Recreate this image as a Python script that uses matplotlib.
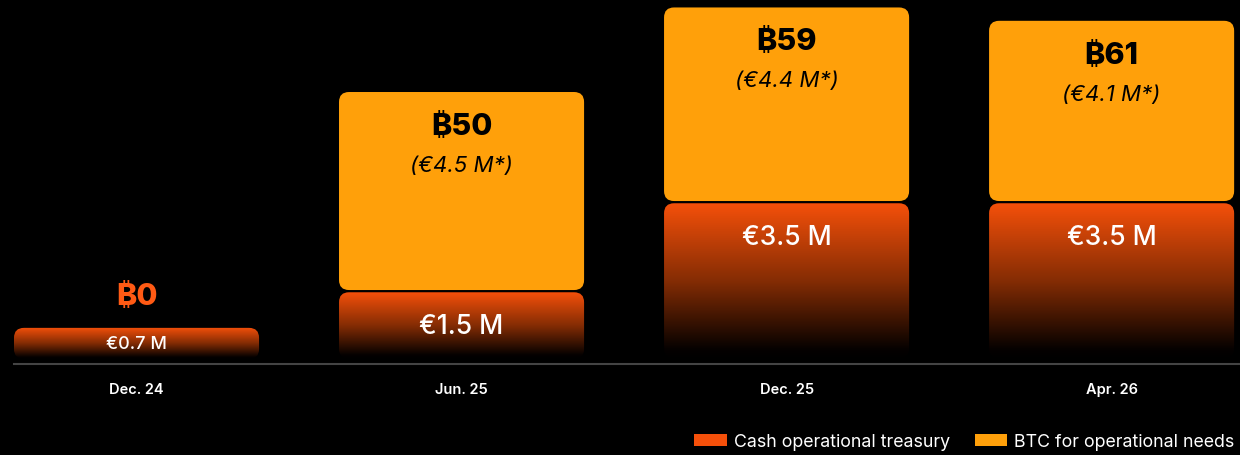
import numpy as np
import matplotlib
matplotlib.use("Agg")
import matplotlib.pyplot as plt
from matplotlib.patches import FancyBboxPatch, Patch
from matplotlib.colors import LinearSegmentedColormap

plt.rcParams['font.family'] = ['Inter', 'DejaVu Sans']

# data
periods = ["Dec. 24", "Jun. 25", "Dec. 25", "Apr. 26"]
cash_eur = [0.7, 1.5, 3.5, 3.5]          # M EUR
btc_eur = [0.0, 4.5, 4.4, 4.1]           # M EUR
btc_count = [0, 50, 59, 61]
cash_labels = ["€0.7 M", "€1.5 M", "€3.5 M", "€3.5 M"]
btc_labels = ["", "(€4.5 M*)", "(€4.4 M*)", "(€4.1 M*)"]

RED = '#F5500A'
ORANGE = '#FFA00A'
BG = 'black'

fig = plt.figure(figsize=(12.4, 4.56), dpi=100, facecolor=BG)
ax = fig.add_axes([0, 0, 1, 1])
ax.set_facecolor(BG)
ax.set_xlim(-0.42, 3.395)
ax.set_ylim(-2.157, 8.09)
ax.axis('off')

width = 0.754
gap = 0.05
px_x = 325.0      # pixels per x unit
px_y = 44.5       # pixels per y unit
r = 10 / px_x
aspect = px_x / px_y

grad = LinearSegmentedColormap.from_list(
    'g', [(0, '#000000'), (0.06, '#050100'), (0.5, '#842c04'), (1, RED)])
gimg = np.linspace(0, 1, 256).reshape(-1, 1)

for i, p in enumerate(periods):
    x0 = i - width / 2
    # cash bar with gradient
    h = cash_eur[i]
    patch = FancyBboxPatch((x0, 0), width, h,
                           boxstyle=f"round,pad=0,rounding_size={r}",
                           mutation_aspect=aspect, facecolor='none', edgecolor='none')
    ax.add_patch(patch)
    im = ax.imshow(gimg, cmap=grad, origin='lower', aspect='auto',
                   extent=(x0, x0 + width, 0, h), zorder=2)
    im.set_clip_path(patch)

    if btc_eur[i] > 0:
        top = FancyBboxPatch((x0, h + gap), width, btc_eur[i] - gap,
                             boxstyle=f"round,pad=0,rounding_size={r}",
                             mutation_aspect=aspect, facecolor=ORANGE,
                             edgecolor='none', zorder=2)
        ax.add_patch(top)
        stack = h + btc_eur[i]
        ax.annotate(f"₿{btc_count[i]}", (i, stack), xytext=(0, -34),
                    textcoords='offset pixels', ha='center', va='center',
                    fontsize=22, fontweight='heavy', color='black', zorder=3)
        ax.annotate(btc_labels[i], (i, stack), xytext=(0, -73),
                    textcoords='offset pixels', ha='center', va='center',
                    fontsize=16, style='italic', color='black', zorder=3)
        ax.annotate(cash_labels[i], (i, h), xytext=(0, -34),
                    textcoords='offset pixels', ha='center', va='center',
                    fontsize=19, fontweight='medium', color='white', zorder=3)
    else:
        ax.text(i, h / 2, cash_labels[i], ha='center', va='center',
                fontsize=13, fontweight='medium', color='white', zorder=3)
        ax.annotate(f"₿{btc_count[i]}", (i, h), xytext=(0, 32),
                    textcoords='offset pixels', ha='center', va='center',
                    fontsize=22, fontweight='heavy', color='#FF5A14', zorder=3)

    ax.annotate(p, (i, 0), xytext=(0, -30), textcoords='offset pixels',
                ha='center', va='center', fontsize=10.5, fontweight='semibold',
                color='white')

# baseline
ax.plot([-width / 2, 3.395], [-5 / px_y, -5 / px_y], color='#444444', lw=1.5, zorder=1)

handles = [Patch(facecolor=RED, edgecolor='none', label='Cash operational treasury'),
           Patch(facecolor=ORANGE, edgecolor='none', label='BTC for operational needs')]
leg = fig.legend(handles=handles, loc='lower right', bbox_to_anchor=(1.008, -0.025), ncol=2,
                 frameon=False, fontsize=12.8, handlelength=1.85, handleheight=0.65,
                 handletextpad=0.35, columnspacing=1.4)
for t in leg.get_texts():
    t.set_color('white')

fig.savefig('out.png', dpi=100, facecolor=BG)
